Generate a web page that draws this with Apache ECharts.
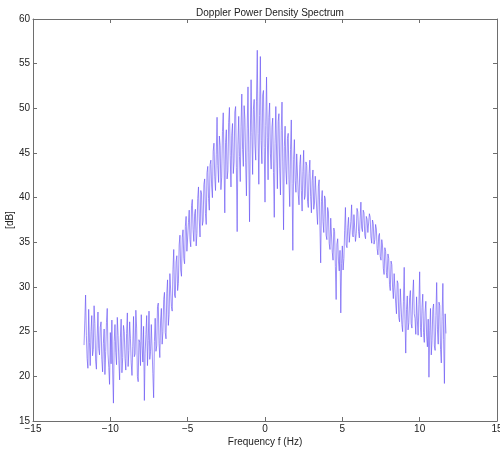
<!DOCTYPE html>
<html>
<head>
<meta charset="utf-8">
<script src="https://cdn.jsdelivr.net/npm/echarts@6/dist/echarts.min.js"></script>
<style>
html,body{margin:0;padding:0;background:#fff;}
#chart{width:500px;height:452px;}
</style>
</head>
<body>
<div id="chart"></div>
<script>
var titleText = 'Doppler Power Density Spectrum';
var xLabel = 'Frequency f (Hz)';
var yLabel = '[dB]';
var xTicks = [-15, -10, -5, 0, 5, 10, 15];
var yTicks = [15, 20, 25, 30, 35, 40, 45, 50, 55, 60];
var freqStart = -11.7;
var freqStep = 0.05;
var powerDb = [
  23.5, 26.2, 29.1, 24.6, 22.0, 20.9, 27.5, 23.8, 21.2, 25.0, 26.8, 22.3, 23.0, 27.9, 25.9, 21.7, 20.8, 24.4, 27.2, 23.1,
  22.4, 25.5, 26.1, 21.9, 20.5, 23.7, 25.3, 20.2, 22.8, 26.0, 27.6, 22.5, 21.0, 19.1, 24.9, 21.4, 26.3, 20.6, 17.0, 23.9,
  25.8, 22.7, 21.3, 26.6, 24.6, 21.8, 19.6, 24.3, 26.4, 20.4, 22.1, 25.7, 25.0, 22.0, 20.7, 24.8, 27.1, 21.1, 22.9, 26.1,
  24.2, 21.5, 20.1, 23.3, 26.7, 22.2, 22.5, 27.4, 25.4, 20.0, 19.4, 24.1, 23.8, 21.2, 26.9, 23.5, 21.6, 25.6, 17.3, 22.6,
  24.7, 26.8, 21.2, 24.0, 27.3, 21.9, 22.8, 25.8, 25.9, 20.3, 17.6, 23.9, 26.5, 22.8, 23.4, 27.8, 28.2, 23.7, 22.1, 26.3,
  27.6, 23.6, 25.0, 28.6, 29.4, 24.9, 24.2, 29.3, 30.8, 25.7, 26.9, 31.5, 31.6, 27.8, 27.3, 32.0, 34.2, 29.1, 28.8, 32.8,
  33.5, 29.6, 30.4, 34.7, 35.8, 31.9, 31.2, 35.5, 36.4, 33.2, 32.6, 36.8, 37.9, 34.0, 33.9, 37.2, 38.6, 35.3, 34.5, 39.1,
  39.8, 36.4, 35.1, 38.2, 38.7, 34.6, 36.0, 39.9, 41.2, 37.5, 35.6, 40.8, 40.4, 36.9, 37.4, 41.5, 42.1, 38.2, 37.0, 42.8,
  43.5, 39.9, 38.6, 43.7, 44.2, 41.3, 40.0, 45.2, 46.1, 42.4, 40.8, 44.8, 49.0, 43.6, 41.7, 46.9, 45.8, 40.9, 42.3, 47.4,
  49.5, 44.1, 38.3, 46.2, 47.6, 42.1, 43.0, 48.4, 50.1, 44.7, 41.2, 47.0, 48.3, 42.7, 44.0, 49.6, 50.2, 43.4, 36.2, 45.9,
  49.1, 44.6, 41.8, 48.0, 51.6, 45.4, 43.5, 50.3, 48.8, 43.9, 40.2, 47.7, 52.4, 45.1, 37.3, 46.8, 53.2, 47.3, 42.6, 49.9,
  51.0, 46.0, 44.2, 50.8, 56.5, 47.2, 41.5, 49.2, 55.8, 46.4, 43.8, 51.5, 52.0, 45.6, 39.5, 48.1, 53.5, 46.7, 42.0, 49.0,
  50.6, 44.9, 43.2, 47.9, 48.9, 42.8, 37.8, 46.1, 50.2, 45.0, 41.0, 48.5, 49.4, 43.3, 40.3, 47.5, 50.7, 44.0, 36.4, 45.7,
  48.0, 43.1, 41.5, 46.6, 47.2, 42.0, 39.0, 45.4, 48.7, 41.6, 34.1, 44.3, 46.5, 41.9, 40.6, 44.9, 45.0, 40.4, 39.2, 43.7,
  44.8, 40.8, 38.5, 42.9, 45.3, 39.8, 40.2, 44.0, 43.6, 39.6, 38.9, 42.7, 44.2, 40.1, 38.3, 41.9, 43.1, 38.7, 39.4, 42.4,
  42.6, 38.4, 37.0, 41.3, 42.0, 36.9, 32.7, 39.6, 40.8, 37.3, 36.1, 40.2, 39.9, 35.8, 35.3, 38.9, 38.4, 34.9, 34.2, 37.7,
  37.5, 33.9, 33.0, 36.6, 36.2, 32.3, 28.6, 34.8, 35.4, 32.9, 31.8, 34.1, 27.1, 32.6, 34.6, 31.9, 33.2, 36.3, 38.9, 34.7,
  34.4, 36.7, 37.8, 35.0, 35.2, 37.3, 39.2, 35.9, 35.6, 38.1, 37.9, 35.1, 36.0, 38.8, 38.4, 36.2, 35.5, 37.6, 39.5, 36.6,
  36.2, 38.6, 38.3, 35.8, 35.4, 37.9, 37.6, 36.1, 35.9, 38.2, 37.8, 35.6, 34.9, 37.5, 37.1, 34.8, 35.3, 37.0, 36.5, 34.3,
  33.6, 35.7, 36.0, 33.4, 33.0, 35.3, 34.6, 32.1, 31.4, 34.4, 34.0, 31.6, 31.0, 33.7, 33.2, 30.3, 29.6, 32.9, 32.5, 29.9,
  28.7, 31.5, 31.3, 28.2, 27.0, 30.7, 30.4, 26.6, 26.1, 29.8, 29.7, 25.8, 25.0, 28.4, 32.2, 26.4, 22.6, 27.5, 29.0, 25.2,
  26.0, 28.8, 29.6, 25.9, 25.4, 29.1, 30.8, 27.0, 26.5, 24.7, 28.9, 26.3, 24.6, 28.0, 31.7, 25.5, 24.4, 27.7, 29.2, 24.9,
  23.8, 27.2, 28.4, 24.5, 23.3, 26.4, 19.9, 25.1, 27.6, 22.4, 24.0, 27.5, 28.1, 23.4, 22.9, 26.8, 30.5, 25.2, 23.6, 28.3,
  27.9, 23.0, 21.5, 26.7, 30.4, 24.1, 19.2, 27.0, 24.8
];

var seriesData = powerDb.map(function (v, i) {
  return [+(freqStart + i * freqStep).toFixed(3), v];
});

var FONT = 'Liberation Sans, Arial, sans-serif';
var axisCol = '#6e6e6e';
var chart = echarts.init(document.getElementById('chart'), null, {renderer: 'canvas'});
chart.setOption({
  animation: false,
  backgroundColor: '#ffffff',
  title: {
    text: titleText,
    left: 265,
    top: 3,
    textAlign: 'center',
    textStyle: {fontFamily: FONT, fontSize: 10, fontWeight: 'normal', color: '#222'}
  },
  grid: {left: 33, right: 3, top: 19, bottom: 31, containLabel: false, outerBoundsMode: 'none'},
  xAxis: [{
    type: 'value', min: xTicks[0], max: xTicks[xTicks.length - 1], interval: 5,
    position: 'bottom',
    name: xLabel, nameLocation: 'middle', nameGap: 16, nameMoveOverlap: false,
    nameTextStyle: {fontFamily: FONT, fontSize: 10, color: '#222'},
    axisLine: {show: true, onZero: false, lineStyle: {color: axisCol, width: 1}},
    axisTick: {show: true, inside: true, length: 4, lineStyle: {color: axisCol}},
    axisLabel: {fontFamily: FONT, fontSize: 10, color: '#222', margin: 3,
      formatter: function (v) { return v < 0 ? '\u2212' + Math.abs(v) : String(v); }},
    splitLine: {show: false}
  }, {
    type: 'value', min: xTicks[0], max: xTicks[xTicks.length - 1], interval: 5,
    position: 'top',
    axisLine: {show: true, onZero: false, lineStyle: {color: axisCol, width: 1}},
    axisTick: {show: true, inside: true, length: 4, lineStyle: {color: axisCol}},
    axisLabel: {show: false},
    splitLine: {show: false}
  }],
  yAxis: [{
    type: 'value', min: yTicks[0], max: yTicks[yTicks.length - 1], interval: 5,
    position: 'left',
    name: yLabel, nameLocation: 'middle', nameGap: 18, nameRotate: 90, nameMoveOverlap: false,
    nameTextStyle: {fontFamily: FONT, fontSize: 10, color: '#222'},
    axisLine: {show: true, onZero: false, lineStyle: {color: axisCol, width: 1}},
    axisTick: {show: true, inside: true, length: 4, lineStyle: {color: axisCol}},
    axisLabel: {fontFamily: FONT, fontSize: 10, color: '#222', margin: 3},
    splitLine: {show: false}
  }, {
    type: 'value', min: yTicks[0], max: yTicks[yTicks.length - 1], interval: 5,
    position: 'right',
    axisLine: {show: true, onZero: false, lineStyle: {color: axisCol, width: 1}},
    axisTick: {show: true, inside: true, length: 4, lineStyle: {color: axisCol}},
    axisLabel: {show: false},
    splitLine: {show: false}
  }],
  series: [{
    type: 'line',
    xAxisIndex: 0, yAxisIndex: 0,
    data: seriesData,
    showSymbol: false,
    symbol: 'none',
    lineStyle: {color: 'rgba(105, 85, 245, 0.65)', width: 1},
    silent: true
  }]
});
</script>
</body>
</html>
